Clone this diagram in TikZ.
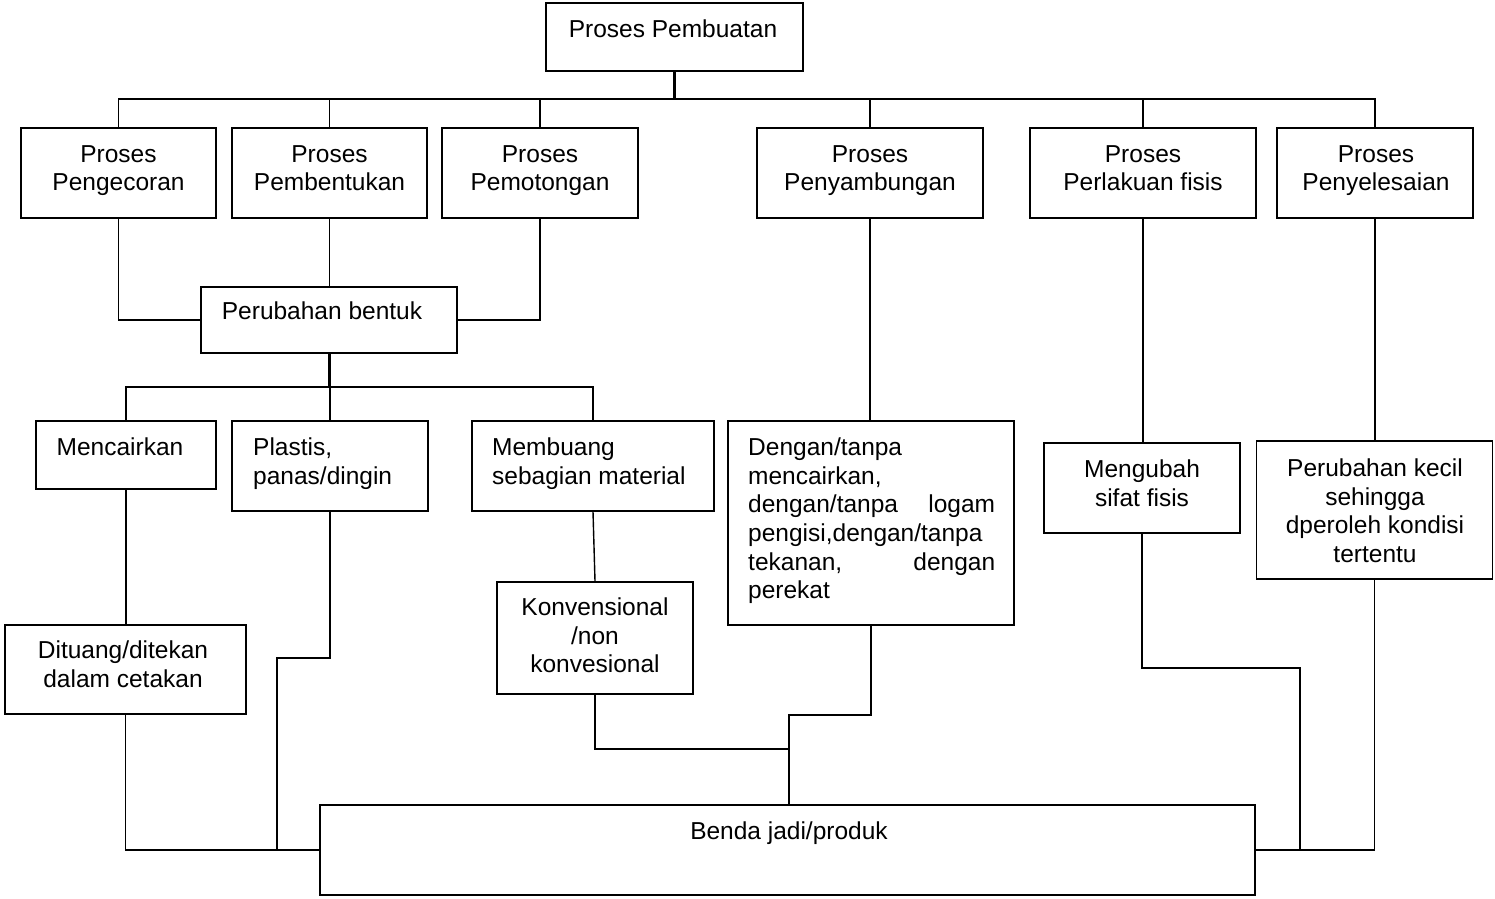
\documentclass[tikz,border=0pt]{standalone}
\usepackage{fontspec}
\setmainfont{Liberation Sans}
\begin{document}
\begin{tikzpicture}[x=1pt,y=-1pt,
  box/.style={draw, line width=1.5pt, inner sep=0pt, fill=white},
  txt/.style={inner sep=0pt, anchor=north, align=center, font=\fontsize{24.5}{28.7}\selectfont},
  ltxt/.style={txt, anchor=north west, align=left},
  conn/.style={line width=1.4pt},
  thickconn/.style={line width=3pt}]
\useasboundingbox (0,0) rectangle (1495,898);
% boxes
\node[box, minimum width=257, minimum height=68] (pp) at (674.5,37) {};
\node[box, minimum width=195, minimum height=90] (peng) at (118.5,173) {};
\node[box, minimum width=195, minimum height=90] (pemb) at (329.5,173) {};
\node[box, minimum width=196, minimum height=90] (pemo) at (540,173) {};
\node[box, minimum width=226, minimum height=90] (peny) at (870,173) {};
\node[box, minimum width=226, minimum height=90] (perl) at (1143,173) {};
\node[box, minimum width=196, minimum height=90] (pyls) at (1375,173) {};
\node[box, minimum width=256, minimum height=66] (pb) at (329,320) {};
\node[box, minimum width=180, minimum height=68] (menc) at (126,455) {};
\node[box, minimum width=196, minimum height=90] (plas) at (330,466) {};
\node[box, minimum width=242, minimum height=90] (memb) at (593,466) {};
\node[box, minimum width=241, minimum height=89] (ditu) at (125.5,669.5) {};
\node[box, minimum width=196, minimum height=112] (konv) at (595,638) {};
\node[box, minimum width=286, minimum height=204] (deng) at (871,523) {};
\node[box, minimum width=196, minimum height=90] (meng) at (1142,488) {};
\node[box, minimum width=236, minimum height=138] (pkec) at (1374.5,510) {};
\node[box, minimum width=935, minimum height=90] (benda) at (787.5,850) {};
% texts
\node[txt] (tpp) at (673,17) {\strut Proses Pembuatan};
\node[txt] (tpeng) at (118.5,142) {\strut Proses\\Pengecoran};
\node[txt] (tpemb) at (329.5,142) {\strut Proses\\Pembentukan};
\node[txt] (tpemo) at (540,142) {\strut Proses\\Pemotongan};
\node[txt] (tpeny) at (870,142) {\strut Proses\\Penyambungan};
\node[txt] (tperl) at (1143,142) {\strut Proses\\Perlakuan fisis};
\node[txt] (tpyls) at (1376,142) {\strut Proses\\Penyelesaian};
\node[txt] (tpb) at (322,299) {\strut Perubahan bentuk};
\node[txt] (tmenc) at (120,435) {\strut Mencairkan};
\node[ltxt] (tplas) at (253,435) {\strut Plastis,\\panas/dingin};
\node[ltxt] (tmemb) at (492,435) {\strut Membuang\\sebagian material};
\node[txt] (tditu) at (123,638) {\strut Dituang/ditekan\\dalam cetakan};
\node[txt] (tkonv) at (595,595) {\strut Konvensional\\/non\\konvesional};
\node[ltxt, text width=247pt] (tdeng) at (748,435) {\strut Dengan/tanpa\\mencairkan,\\dengan/tanpa\hfill logam\\pengisi,dengan/tanpa\\tekanan,\hfill dengan\\perekat};
\node[txt] (tmeng) at (1142,457) {\strut Mengubah\\sifat fisis};
\node[txt] (tpkec) at (1375,456) {\strut Perubahan kecil\\sehingga\\dperoleh kondisi\\tertentu};
\node[txt] (tbenda) at (789,819) {\strut Benda jadi/produk};
% connectors
\coordinate (j1) at (674.5,99);
\draw[thickconn] (pp.south) -- (j1);
\draw[conn] (peng.north) |- (j1) -| (pyls.north);
\foreach \n in {pemb,pemo,peny,perl} \draw[conn] (\n.north) -- (\n.north |- j1);
\draw[conn] (peng.south) |- (pb.west);
\draw[conn] (pemo.south) |- (pb.east);
\draw[conn] (pemb.south) -- (pemb.south |- pb.north);
\coordinate (j2) at (329,387);
\draw[thickconn] (pb.south) -- (j2);
\draw[conn] (menc.north) |- (j2) -| (memb.north);
\draw[conn] (plas.north) -- (plas.north |- j2);
\draw[conn] (menc.south) -- (menc.south |- ditu.north);
\coordinate (j4) at (277,658);
\draw[conn] (plas.south) |- (j4) -- (j4 |- benda.west) -- (benda.west);
\draw[conn] (ditu.south) |- (benda.west);
\draw[conn] (memb.south) -- (konv.north);
\coordinate (j3) at (789,749);
\draw[conn] (konv.south) |- (j3) -- (j3 |- benda.north);
\draw[conn] (deng.south) |- (789,715) -- (j3);
\draw[conn] (peny.south) -- (peny.south |- deng.north);
\draw[conn] (perl.south) -- (perl.south |- meng.north);
\draw[conn] (pyls.south) -- (pyls.south |- pkec.north);
\coordinate (j5) at (1300,668);
\draw[conn] (meng.south) |- (j5) -- (j5 |- benda.east) -- (benda.east);
\draw[conn] (pkec.south) |- (j5 |- benda.east);
\end{tikzpicture}
\end{document}
